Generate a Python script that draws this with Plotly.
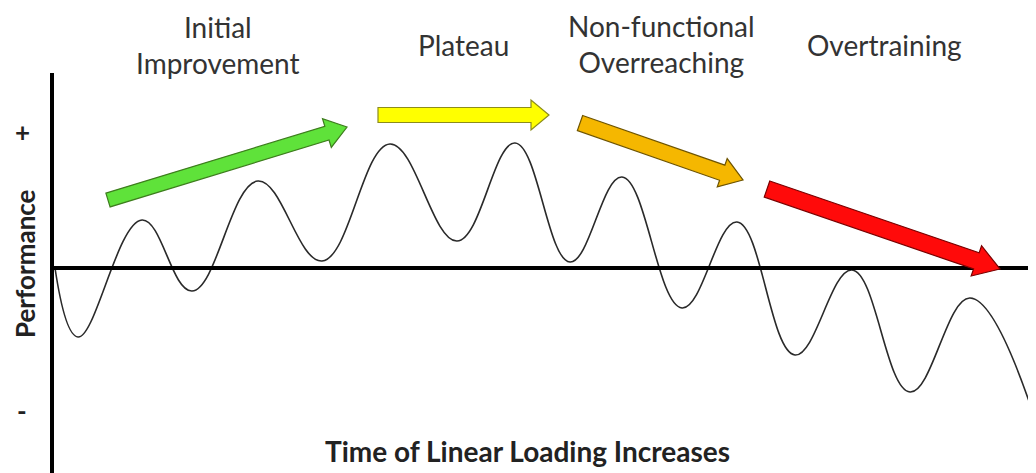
import math
import plotly.graph_objects as go

# ---- data (time units = px-scale, performance relative to baseline) ----
time = [55, 78, 142, 192, 258, 322, 390, 457, 515, 570, 622, 682, 737, 795, 852, 910, 970, 1036]
performance = [0, -69, 48, -23, 87, 7, 124, 27, 125, 6, 91, -40, 46, -87, -2, -124, -30, -154]

phase_labels = ["Initial<br>Improvement", "Plateau", "Non-functional<br>Overreaching", "Overtraining"]
phase_x = [218, 463, 661, 884]
phase_y = [223, 223, 224, 223]

# trend arrows: tail (x, y) -> tip (x, y)
arrow_tail = [(108, 68), (378, 153), (580, 145), (767, 79)]
arrow_tip = [(347, 141), (549, 153), (743, 88), (1000, -1)]
arrow_fill = ["#5fe23a", "#ffff00", "#f5b700", "#ff0a0a"]
arrow_line = ["#3d7d1d", "#8c8c1c", "#6e5400", "#7a0000"]

# page body has an 8px margin: shift the ranges so the marks land where intended
XR = [8, 1036]
YR = [-205, 260]

fig = go.Figure()
fig.add_trace(go.Scatter(x=time, y=performance, mode="lines",
                         line=dict(color="#2a2a2a", width=1.6, shape="spline", smoothing=1.15),
                         hoverinfo="skip", showlegend=False, cliponaxis=False))

def arrow_path(t, p, sw=7.5, hw=15, hl=21):
    dx, dy = p[0] - t[0], p[1] - t[1]
    L = math.hypot(dx, dy)
    ux, uy = dx / L, dy / L
    nx, ny = -uy, ux
    bx, by = p[0] - ux * hl, p[1] - uy * hl
    pts = [(t[0] + nx * sw, t[1] + ny * sw), (bx + nx * sw, by + ny * sw),
           (bx + nx * hw, by + ny * hw), p,
           (bx - nx * hw, by - ny * hw), (bx - nx * sw, by - ny * sw),
           (t[0] - nx * sw, t[1] - ny * sw)]
    return "M " + " L ".join(f"{x:.2f},{y:.2f}" for x, y in pts) + " Z"

shapes = []
# axes
shapes.append(dict(type="line", x0=52, x1=52, y0=195, y1=YR[0], xref="x", yref="y",
                   line=dict(color="black", width=4)))
shapes.append(dict(type="line", x0=52, x1=XR[1], y0=0, y1=0, xref="x", yref="y",
                   line=dict(color="black", width=4)))
sizes = [(7.2, 15, 21), (7.5, 15, 18), (8, 15, 22), (8.5, 16, 25)]
for t, p, f, lc, sz in zip(arrow_tail, arrow_tip, arrow_fill, arrow_line, sizes):
    shapes.append(dict(type="path", path=arrow_path(t, p, *sz), xref="x", yref="y",
                       fillcolor=f, line=dict(color=lc, width=1.2)))

annotations = []
FONT = "Lato"
for lab, x, y in zip(phase_labels, phase_x, phase_y):
    annotations.append(dict(x=x, y=y, xref="x", yref="y", text=lab, showarrow=False,
                            font=dict(family=FONT, size=28, color="#333333"),
                            align="center"))
annotations.append(dict(x=22, y=136, xref="x", yref="y", text="+", showarrow=False,
                        font=dict(family=FONT, size=26, color="#222222", weight="bold")))
annotations.append(dict(x=22, y=-143, xref="x", yref="y", text="-", showarrow=False,
                        font=dict(family=FONT, size=26, color="#222222", weight="bold")))
annotations.append(dict(x=8, y=4, xref="x", yref="y", text="Performance", showarrow=False,
                        textangle=-90, xanchor="left", borderpad=0,
                        font=dict(family=FONT, size=26, color="#222222", weight="bold")))
annotations.append(dict(x=527, y=-183, xref="x", yref="y", text="Time of Linear Loading Increases",
                        showarrow=False,
                        font=dict(family=FONT, size=28, color="#222222", weight="bold")))

fig.update_layout(
    width=1028, height=465,
    margin=dict(l=0, r=0, t=0, b=0),
    paper_bgcolor="white", plot_bgcolor="white",
    xaxis=dict(range=XR, visible=False, fixedrange=True),
    yaxis=dict(range=YR, visible=False, fixedrange=True),
    shapes=shapes, annotations=annotations,
)
fig.write_html("out.html")
